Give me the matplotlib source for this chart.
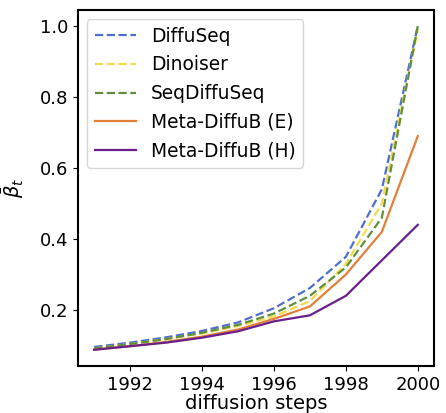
import matplotlib
matplotlib.use("Agg")
import matplotlib.pyplot as plt

steps = [1991, 1992, 1993, 1994, 1995, 1996, 1997, 1998, 1999, 2000]
diffuseq = [0.096, 0.108, 0.123, 0.141, 0.165, 0.205, 0.262, 0.35, 0.54, 1.0]
dinoiser = [0.092, 0.104, 0.118, 0.134, 0.155, 0.182, 0.225, 0.33, 0.50, 0.99]
seqdiffuseq = [0.092, 0.104, 0.118, 0.136, 0.158, 0.190, 0.240, 0.32, 0.46, 1.0]
meta_e = [0.088, 0.098, 0.110, 0.125, 0.145, 0.175, 0.210, 0.30, 0.42, 0.69]
meta_h = [0.088, 0.098, 0.108, 0.122, 0.140, 0.168, 0.185, 0.24, 0.34, 0.44]

labels = ["DiffuSeq", "Dinoiser", "SeqDiffuSeq", "Meta-DiffuB (E)", "Meta-DiffuB (H)"]
xticks = [1992, 1994, 1996, 1998, 2000]
yticks = [0.2, 0.4, 0.6, 0.8, 1.0]

fig = plt.figure(figsize=(4.46, 4.13), dpi=100)
ax = fig.add_axes([0.175, 0.114, 0.798, 0.862])

ax.plot(steps, diffuseq, '--', color='#4f6fd0', lw=1.6, label=labels[0])
ax.plot(steps, dinoiser, '--', color='#f2dc4a', lw=1.6, label=labels[1])
ax.plot(steps, seqdiffuseq, '--', color='#5e8f3e', lw=1.6, label=labels[2])
ax.plot(steps, meta_e, '-', color='#e0803a', lw=1.6, label=labels[3])
ax.plot(steps, meta_h, '-', color='#6a1f8a', lw=1.6, label=labels[4])

ax.set_xticks(xticks)
ax.set_yticks(yticks)
ax.tick_params(labelsize=13)
ax.set_xlabel("diffusion steps", fontsize=14, labelpad=0)
ax.set_ylabel(r"$\bar{\beta}_t$", fontsize=14, labelpad=10)
for s in ax.spines.values():
    s.set_linewidth(1.5)
ax.legend(loc='upper left', fontsize=13.4, handlelength=2.2, borderaxespad=0.5,
          labelspacing=0.52)

fig.savefig("out.png", dpi=100)
